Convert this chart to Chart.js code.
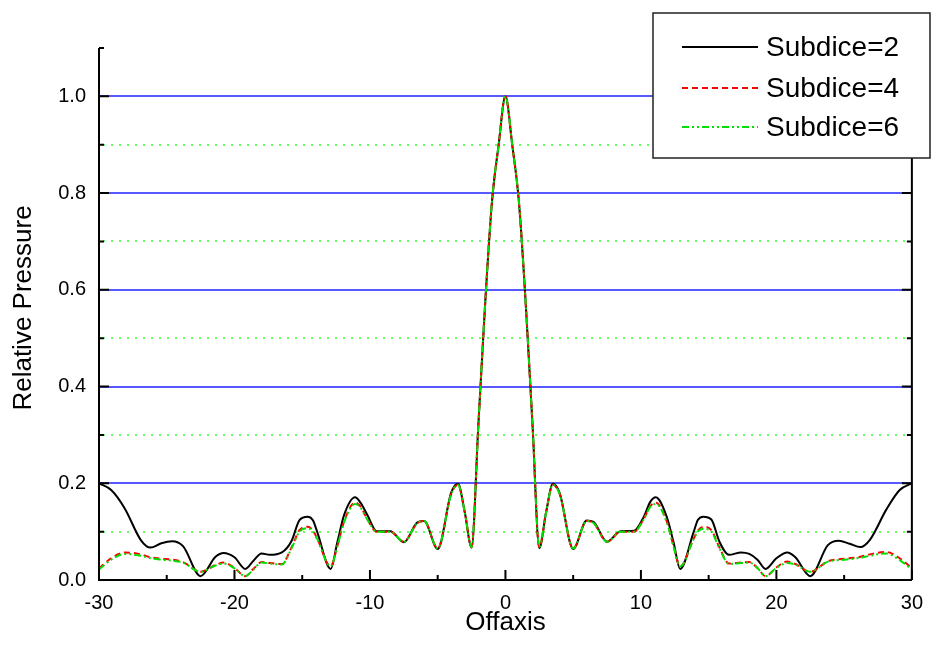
<!DOCTYPE html>
<html>
<head>
<meta charset="utf-8">
<script src="https://cdn.jsdelivr.net/npm/chart.js@4"></script>
<style>
  html, body { margin: 0; padding: 0; background: #fff; }
  canvas { display: block; }
</style>
</head>
<body>
<canvas id="pressureChart" width="934" height="662"></canvas>
<script>
// Off-axis positions shared by all three curves
const offaxis = [-30, -29.1, -28.1, -26.9, -26.2, -25.4, -24.6, -23.8, -22.5, -21.4, -20.8, -20, -19.2, -18.6, -18, -17.4, -16.5, -15.8, -15.2, -14.6, -14.2, -13.9, -12.9, -12.4, -11.9, -11.1, -10.7, -10.2, -9.5, -8.5, -7.5, -6.5, -6, -5, -4, -3.5, -3, -2.5, -2, -1.5, -1, -0.5,
  0,
  0.5, 1, 1.5, 2, 2.5, 3, 3.5, 4, 5, 6, 6.5, 7.5, 8.5, 9.5, 10.2, 10.7, 11.1, 11.9, 12.4, 12.9, 13.9, 14.2, 14.6, 15.2, 15.8, 16.5, 17.4, 18, 18.6, 19.2, 20, 20.8, 21.4, 22.5, 23.8, 24.6, 25.4, 26.2, 26.9, 28.1, 29.1, 30];

const subdice2 = [0.2, 0.186, 0.148, 0.082, 0.067, 0.076, 0.080, 0.070, 0.008, 0.048, 0.056, 0.047, 0.023, 0.040, 0.055, 0.052, 0.057, 0.080, 0.124, 0.131, 0.123, 0.100, 0.023, 0.079, 0.135, 0.171, 0.160, 0.135, 0.101, 0.101, 0.078, 0.119, 0.122, 0.064, 0.181, 0.199, 0.14, 0.067, 0.32, 0.57, 0.78, 0.90,
  1.0,
  0.90, 0.78, 0.57, 0.32, 0.066, 0.14, 0.199, 0.18, 0.064, 0.123, 0.12, 0.079, 0.101, 0.102, 0.13, 0.162, 0.171, 0.131, 0.079, 0.023, 0.10, 0.124, 0.131, 0.125, 0.079, 0.052, 0.057, 0.054, 0.042, 0.023, 0.045, 0.057, 0.047, 0.008, 0.072, 0.081, 0.075, 0.068, 0.083, 0.145, 0.186, 0.2];

const subdice4 = [0.024, 0.045, 0.057, 0.053, 0.047, 0.044, 0.042, 0.037, 0.017, 0.031, 0.036, 0.025, 0.008, 0.023, 0.037, 0.035, 0.033, 0.067, 0.103, 0.110, 0.102, 0.086, 0.028, 0.071, 0.122, 0.160, 0.152, 0.126, 0.1, 0.1, 0.079, 0.118, 0.122, 0.065, 0.178, 0.197, 0.14, 0.068, 0.32, 0.57, 0.78, 0.90,
  1.0,
  0.90, 0.78, 0.57, 0.32, 0.068, 0.14, 0.197, 0.178, 0.065, 0.122, 0.118, 0.079, 0.100, 0.100, 0.126, 0.153, 0.160, 0.122, 0.071, 0.028, 0.086, 0.102, 0.110, 0.103, 0.067, 0.034, 0.036, 0.037, 0.025, 0.008, 0.026, 0.038, 0.033, 0.017, 0.039, 0.043, 0.045, 0.048, 0.053, 0.058, 0.045, 0.024];

const subdice6 = [0.022, 0.042, 0.054, 0.050, 0.045, 0.042, 0.040, 0.036, 0.017, 0.030, 0.034, 0.024, 0.008, 0.022, 0.036, 0.034, 0.032, 0.065, 0.1, 0.107, 0.1, 0.085, 0.028, 0.07, 0.12, 0.157, 0.15, 0.125, 0.1, 0.1, 0.079, 0.118, 0.122, 0.065, 0.178, 0.197, 0.14, 0.068, 0.32, 0.57, 0.78, 0.90,
  1.0,
  0.90, 0.78, 0.57, 0.32, 0.068, 0.14, 0.197, 0.178, 0.065, 0.122, 0.118, 0.079, 0.100, 0.100, 0.125, 0.152, 0.157, 0.12, 0.07, 0.028, 0.085, 0.1, 0.106, 0.1, 0.065, 0.033, 0.035, 0.036, 0.025, 0.008, 0.025, 0.035, 0.032, 0.017, 0.038, 0.041, 0.043, 0.046, 0.05, 0.055, 0.041, 0.022];

const seriesNames = ['Subdice=2', 'Subdice=4', 'Subdice=6'];

// Axis ticks
const xMajorTicks = [-30, -20, -10, 0, 10, 20, 30];
const xMinorTicks = [-25, -15, -5, 5, 15, 25];
const yMajorTicks = [0, 0.2, 0.4, 0.6, 0.8, 1.0];
const yMinorTicks = [0.1, 0.3, 0.5, 0.7, 0.9, 1.1];

const FONT = '"Liberation Sans", Arial, sans-serif';

function toPoints(ys) {
    return offaxis.map((x, i) => ({ x: x, y: ys[i] }));
}

const styles = [
    { color: '#000000', dash: [] },
    { color: '#ff0000', dash: [6, 4] },
    { color: '#00e000', dash: [7, 3, 2, 3, 2, 3] }
];

// Gridlines, inward ticks, axis frame, titles and legend box
const framePlugin = {
    id: 'frame',
    beforeDatasetsDraw(chart) {
        const ctx = chart.ctx;
        const area = chart.chartArea;
        const y = chart.scales.y;
        ctx.save();
        yMajorTicks.forEach(v => {
            if (v === 0) return;
            const py = Math.round(y.getPixelForValue(v));
            ctx.strokeStyle = '#2020ff';
            ctx.lineWidth = 1.5;
            ctx.setLineDash([]);
            ctx.beginPath();
            ctx.moveTo(area.left, py);
            ctx.lineTo(area.right, py);
            ctx.stroke();
        });
        yMinorTicks.forEach(v => {
            if (v > 1.05) return;
            const py = Math.round(y.getPixelForValue(v));
            ctx.strokeStyle = '#33ff33';
            ctx.lineWidth = 1.5;
            ctx.setLineDash([2, 6]);
            ctx.beginPath();
            ctx.moveTo(area.left + 4, py);
            ctx.lineTo(area.right, py);
            ctx.stroke();
        });
        ctx.restore();
    },
    afterDatasetsDraw(chart) {
        const ctx = chart.ctx;
        const area = chart.chartArea;
        const x = chart.scales.x;
        const y = chart.scales.y;
        ctx.save();
        ctx.strokeStyle = '#000';
        ctx.lineWidth = 2;
        ctx.setLineDash([]);

        // left, bottom and right axis lines
        ctx.beginPath();
        ctx.moveTo(area.left, area.top);
        ctx.lineTo(area.left, area.bottom);
        ctx.lineTo(area.right, area.bottom);
        ctx.moveTo(area.right, area.top);
        ctx.lineTo(area.right, area.bottom);
        ctx.stroke();

        ctx.beginPath();
        yMajorTicks.forEach(v => {
            const py = y.getPixelForValue(v);
            ctx.moveTo(area.left, py); ctx.lineTo(area.left + 10, py);
            ctx.moveTo(area.right, py); ctx.lineTo(area.right - 10, py);
        });
        yMinorTicks.forEach(v => {
            const py = y.getPixelForValue(v);
            ctx.moveTo(area.left, py); ctx.lineTo(area.left + 5, py);
            ctx.moveTo(area.right, py); ctx.lineTo(area.right - 5, py);
        });
        xMajorTicks.forEach(v => {
            const px = x.getPixelForValue(v);
            ctx.moveTo(px, area.bottom); ctx.lineTo(px, area.bottom - 10);
        });
        xMinorTicks.forEach(v => {
            const px = x.getPixelForValue(v);
            ctx.moveTo(px, area.bottom); ctx.lineTo(px, area.bottom - 5);
        });
        ctx.stroke();

        // axis titles
        ctx.fillStyle = '#000';
        ctx.font = '26px ' + FONT;
        ctx.textAlign = 'center';
        ctx.textBaseline = 'middle';
        ctx.fillText('Offaxis', (area.left + area.right) / 2, 623);
        ctx.translate(24, 308);
        ctx.rotate(-Math.PI / 2);
        ctx.fillText('Relative Pressure', 0, 0);
        ctx.restore();
    },
    afterDraw(chart) {
        const ctx = chart.ctx;
        const box = { left: 653, top: 13, right: 930, bottom: 158 };
        ctx.save();
        ctx.fillStyle = '#fff';
        ctx.fillRect(box.left, box.top, box.right - box.left, box.bottom - box.top);
        ctx.strokeStyle = '#222';
        ctx.lineWidth = 1.5;
        ctx.strokeRect(box.left, box.top, box.right - box.left, box.bottom - box.top);

        const rows = [47, 88, 127];
        ctx.font = '28px ' + FONT;
        ctx.textAlign = 'left';
        ctx.textBaseline = 'middle';
        chart.data.datasets.forEach((ds, i) => {
            const ry = rows[i];
            ctx.strokeStyle = ds.borderColor;
            ctx.lineWidth = 2;
            ctx.setLineDash(ds.borderDash);
            ctx.beginPath();
            ctx.moveTo(682, ry);
            ctx.lineTo(758, ry);
            ctx.stroke();
            ctx.setLineDash([]);
            ctx.fillStyle = '#000';
            ctx.fillText(ds.label, 766, ry + 1);
        });
        ctx.restore();
    }
};

new Chart(document.getElementById('pressureChart'), {
    type: 'line',
    data: {
        datasets: [subdice2, subdice4, subdice6].map((ys, i) => ({
            label: seriesNames[i],
            data: toPoints(ys),
            borderColor: styles[i].color,
            borderDash: styles[i].dash,
            borderWidth: 2,
            pointRadius: 0,
            fill: false,
            cubicInterpolationMode: 'monotone',
            order: 3 - i
        }))
    },
    options: {
        responsive: false,
        animation: false,
        layout: { padding: { left: 0, right: 16, top: 48, bottom: 0 } },
        plugins: {
            legend: { display: false },
            tooltip: { enabled: false }
        },
        scales: {
            x: {
                type: 'linear',
                min: -30,
                max: 30,
                grid: { display: false, drawTicks: false },
                border: { display: false },
                afterBuildTicks: s => { s.ticks = xMajorTicks.map(v => ({ value: v })); },
                ticks: {
                    color: '#000',
                    font: { family: FONT, size: 20 },
                    padding: 11,
                    maxRotation: 0,
                    callback: v => String(v)
                },
                afterFit: s => { s.height = 82; }
            },
            y: {
                min: 0,
                max: 1.1,
                grid: { display: false, drawTicks: false },
                border: { display: false },
                afterBuildTicks: s => { s.ticks = yMajorTicks.map(v => ({ value: v })); },
                ticks: {
                    color: '#000',
                    font: { family: FONT, size: 20 },
                    padding: 13,
                    callback: v => v.toFixed(1)
                },
                afterFit: s => { s.width = 99; }
            }
        }
    },
    plugins: [framePlugin]
});
</script>
</body>
</html>
